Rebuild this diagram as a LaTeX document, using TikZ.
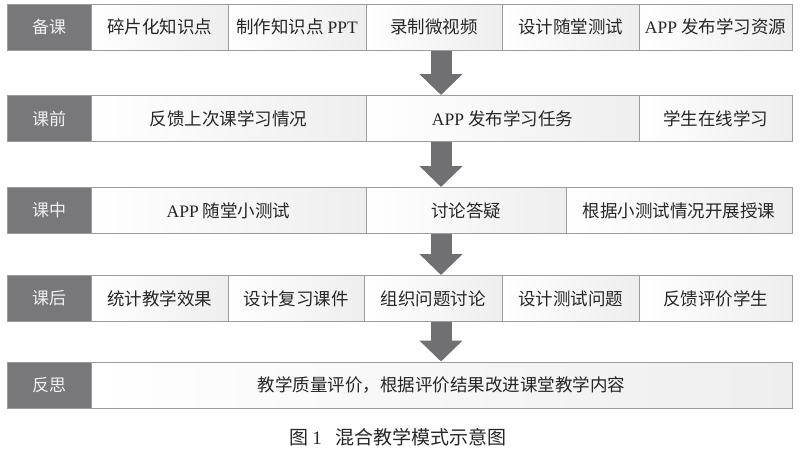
\documentclass[tikz,border=0pt]{standalone}
\usepackage{fontspec}
\setmainfont{Liberation Serif}
\newfontfamily\cjk{Noto Sans CJK SC}
\usepackage{tikz}
\usetikzlibrary{arrows.meta, calc, positioning}

\definecolor{lblc}{HTML}{78787B}
\definecolor{bordc}{HTML}{9C9C9C}
\definecolor{arrc}{HTML}{707072}
\definecolor{txtc}{HTML}{262626}
\definecolor{cellr}{HTML}{EEEEEE}

\tikzset{
  lbl/.style={fill=lblc, draw=bordc, line width=1pt, minimum width=84pt, minimum height=46pt,
    inner sep=0pt, text=white!94!black, font=\fontsize{17}{20}\selectfont\cjk},
  cell/.style={draw=bordc, line width=1pt, left color=white, right color=cellr,
    minimum height=46pt, inner sep=0pt, text=txtc, font=\fontsize{17.5}{20}\selectfont\cjk},
  arr/.style={draw=arrc, line width=21pt, -{Triangle[width=42pt,length=21pt]}},
}

\begin{document}
\begin{tikzpicture}[x=1pt, y=-1pt]

            \useasboundingbox (0,0) rectangle (800,448);

            % 备课
            \node[lbl] (bk) at (49,27) {备课};
            \node[cell, minimum width=137pt] (bk1) at (159.5,27) {碎片化知识点};
            \node[cell, minimum width=138pt] (bk2) at (297,27) {制作知识点 {\rmfamily PPT}};
            \node[cell, minimum width=136pt] (bk3) at (434,27) {录制微视频};
            \node[cell, minimum width=137pt] (bk4) at (570.5,27) {设计随堂测试};
            \node[cell, minimum width=153pt] (bk5) at (715.5,27) {{\rmfamily APP} 发布学习资源};

            % 课前
            \node[lbl] (kq) at (49,118.5) {课前};
            \node[cell, minimum width=275pt] (kq1) at (228.5,118.5) {反馈上次课学习情况};
            \node[cell, minimum width=273pt] (kq2) at (502.5,118.5) {{\rmfamily APP} 发布学习任务};
            \node[cell, minimum width=153pt] (kq3) at (715.5,118.5) {学生在线学习};

            % 课中
            \node[lbl] (kz) at (49,210.5) {课中};
            \node[cell, minimum width=275pt] (kz1) at (228.5,210.5) {{\rmfamily APP} 随堂小测试};
            \node[cell, minimum width=200pt] (kz2) at (466,210.5) {讨论答疑};
            \node[cell, minimum width=226pt] (kz3) at (679,210.5) {根据小测试情况开展授课};

            % 课后
            \node[lbl] (kh) at (49,298.5) {课后};
            \node[cell, minimum width=137pt] (kh1) at (159.5,298.5) {统计教学效果};
            \node[cell, minimum width=136pt] (kh2) at (296,298.5) {设计复习课件};
            \node[cell, minimum width=138pt] (kh3) at (433,298.5) {组织问题讨论};
            \node[cell, minimum width=137pt] (kh4) at (570.5,298.5) {设计测试问题};
            \node[cell, minimum width=153pt] (kh5) at (715.5,298.5) {反馈评价学生};

            % 反思
            \node[lbl] (fs) at (49,385) {反思};
            \node[cell, minimum width=701pt] (fs1) at (441.5,385) {教学质量评价，根据评价结果改进课堂教学内容};

            % 箭头
            \coordinate (ax) at (441,0);
            \draw[arr] (bk.south -| ax) -- (kq.north -| ax);
            \draw[arr] (kq.south -| ax) -- (kz.north -| ax);
            \draw[arr] (kz.south -| ax) -- (kh.north -| ax);
            \draw[arr] (kh.south -| ax) -- (fs.north -| ax);

            % 图题
            \node[text=txtc, font=\fontsize{19}{22}\selectfont\cjk] (cap) at (398,437) {图 {\rmfamily 1}\hspace{14pt}混合教学模式示意图};

            \end{tikzpicture}
\end{document}
